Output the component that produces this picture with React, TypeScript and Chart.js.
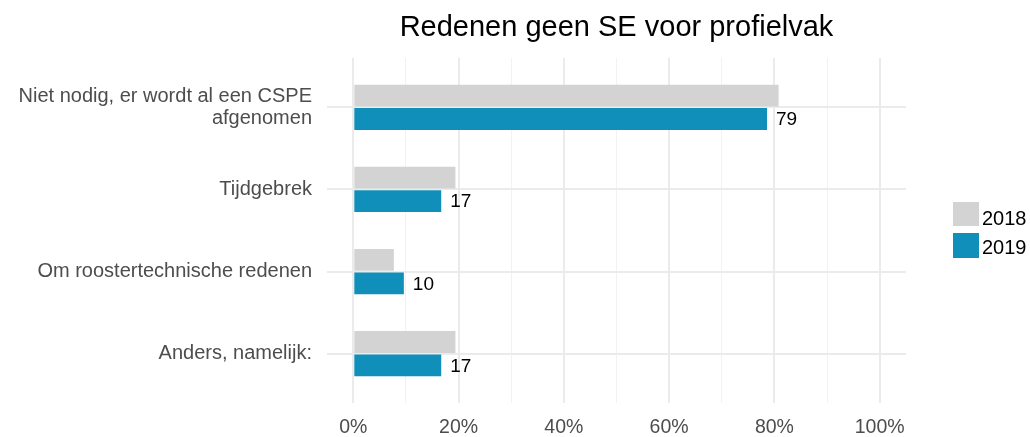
import React, { useEffect, useRef } from "react";
import { Chart, registerables } from "chart.js";

Chart.register(...registerables);

const categories: string[][] = [
  ["Niet nodig, er wordt al een CSPE", "afgenomen"],
  ["Tijdgebrek"],
  ["Om roostertechnische redenen"],
  ["Anders, namelijk:"],
];
const series2018: number[] = [80.8, 19.4, 7.7, 19.4];
const series2019: number[] = [78.6, 16.7, 9.6, 16.7];
const seriesNames: string[] = ["2018", "2019"];
const xTicks: number[] = [0, 10, 20, 30, 40, 50, 60, 70, 80, 90, 100];
const title = "Redenen geen SE voor profielvak";

const COLORS = ["#d3d3d3", "#0f8fb9"];
const FONT = "'Liberation Sans', Arial, sans-serif";

const labelPlugin = {
  id: "valueLabels",
  afterDatasetsDraw(chart: any) {
    const ctx = chart.ctx;
    const meta = chart.getDatasetMeta(1);
    ctx.save();
    ctx.font = `19px ${FONT}`;
    ctx.fillStyle = "#000000";
    ctx.textAlign = "left";
    ctx.textBaseline = "middle";
    meta.data.forEach((el: any, i: number) => {
      const v = series2019[i];
      ctx.fillText(String(Math.round(v)), el.x + 9, el.y + 1);
    });
    ctx.restore();
  },
};

export default function App() {
  const ref = useRef<HTMLCanvasElement>(null);

  useEffect(() => {
    if (!ref.current) return;
    const chart = new Chart(ref.current, {
      type: "bar",
      data: {
        datasets: [
          {
            label: seriesNames[0],
            data: series2018.map((v, i) => ({ x: v, y: i })),
            backgroundColor: COLORS[0],
          },
          {
            label: seriesNames[1],
            data: series2019.map((v, i) => ({ x: v, y: i })),
            backgroundColor: COLORS[1],
          },
        ],
      },
      plugins: [labelPlugin],
      options: {
        indexAxis: "y",
        responsive: false,
        animation: false,
        devicePixelRatio: 1,
        categoryPercentage: 0.57,
        barPercentage: 0.93,
        layout: { padding: { left: 0, right: 124, top: 0, bottom: 0 } },
        plugins: {
          legend: { display: false },
          tooltip: { enabled: false },
          title: {
            display: true,
            text: title,
            fullSize: false,
            color: "#000000",
            font: { family: FONT, size: 29, weight: "normal", lineHeight: 1.2 },
            padding: { top: 10.4, bottom: 12.8 },
          },
        },
        scales: {
          x: {
            type: "linear",
            min: -5,
            max: 105,
            afterBuildTicks: (axis: any) => {
              axis.ticks = xTicks.map((v) => ({ value: v }));
            },
            afterFit: (axis: any) => {
              axis.height = 34;
            },
            border: { display: false },
            grid: {
              color: (c: any) => (c.tick && c.tick.value % 20 === 0 ? "#ebebeb" : "#f2f2f2"),
              lineWidth: (c: any) => (c.tick && c.tick.value % 20 === 0 ? 2 : 1),
              drawTicks: false,
            },
            ticks: {
              autoSkip: false,
              maxRotation: 0,
              padding: 13,
              color: "#4d4d4d",
              font: { family: FONT, size: 19.5 },
              callback: (v: any) => (Number(v) % 20 === 0 ? `${v}%` : ""),
            },
          },
          y: {
            type: "linear",
            reverse: true,
            offset: false,
            min: -0.6,
            max: 3.6,
            afterBuildTicks: (axis: any) => {
              axis.ticks = categories.map((_, i) => ({ value: i }));
            },
            afterFit: (axis: any) => {
              axis.width = 327;
              axis.paddingTop = 0;
              axis.paddingBottom = 0;
            },
            border: { display: false },
            grid: { color: "#ebebeb", lineWidth: 2, drawTicks: false, offset: false },
            ticks: {
              autoSkip: false,
              padding: 15,
              color: "#4d4d4d",
              font: { family: FONT, size: 20, lineHeight: 1.1 },
              callback: (v: any) => categories[Number(v)] ?? "",
            },
          },
        },
      },
    } as any);
    return () => chart.destroy();
  }, []);

  const legendText: React.CSSProperties = {
    position: "absolute",
    left: 982,
    fontFamily: FONT,
    fontSize: 20,
    lineHeight: "20px",
    color: "#000000",
    whiteSpace: "nowrap",
  };

  return (
    <div style={{ position: "absolute", left: 0, top: 0, width: 1030, height: 437, background: "#ffffff" }}>
      <canvas ref={ref} width={1030} height={437} style={{ display: "block" }} />
      <div style={{ position: "absolute", left: 953, top: 202, width: 26, height: 24, background: COLORS[0] }} />
      <div style={{ position: "absolute", left: 953, top: 233, width: 26, height: 25, background: COLORS[1] }} />
      <div style={{ ...legendText, top: 208 }}>{seriesNames[0]}</div>
      <div style={{ ...legendText, top: 237 }}>{seriesNames[1]}</div>
    </div>
  );
}
